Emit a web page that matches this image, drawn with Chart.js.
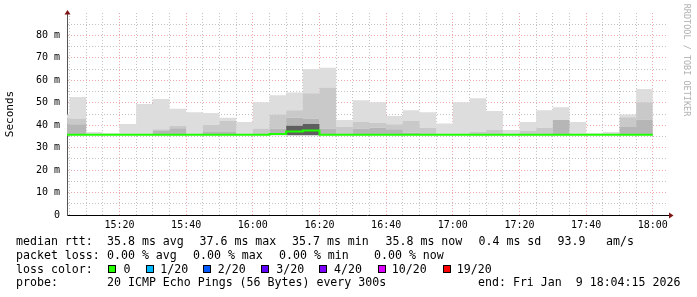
<!DOCTYPE html>
<html><head><meta charset="utf-8">
<script src="https://cdn.jsdelivr.net/npm/chart.js@4.4.1/dist/chart.umd.min.js"></script>
<style>
html,body{margin:0;padding:0;background:#fff;}
#wrap{position:relative;width:697px;height:297px;overflow:hidden;background:#fff;}
#c{position:absolute;left:0;top:0;}
.t{position:absolute;font-family:'DejaVu Sans Mono',monospace;font-size:11.6px;line-height:11.6px;color:#000;white-space:pre;}
.box{position:absolute;width:6px;height:6px;border:1px solid #000;}
.rot{position:absolute;font-family:'DejaVu Sans Mono',monospace;font-weight:normal;white-space:pre;text-align:center;}
</style></head><body>
<div id="wrap"><canvas id="c" width="697" height="297"></canvas></div>
<script>
// ---- data ----
const slotStarts = ['15:04:15','15:05','15:10','15:15','15:20','15:25','15:30','15:35','15:40','15:45','15:50','15:55',
  '16:00','16:05','16:10','16:15','16:20','16:25','16:30','16:35','16:40','16:45','16:50','16:55',
  '17:00','17:05','17:10','17:15','17:20','17:25','17:30','17:35','17:40','17:45','17:50','17:55','18:00'];
const minRtt    = [35.5,35.5,35.5,35.5,35.5,35.5,35.5,35.5,35.5,35.5,35.5,35.5,35.5,35.5,35.5,35.5,35.5,35.5,
                   35.5,35.5,35.5,35.5,35.5,35.5,35.5,35.5,35.5,35.5,35.5,35.5,35.5,35.5,35.5,35.5,35.5,35.5];
const darkRtt   = [35.5,35.5,35.5,35.5,35.5,35.5,35.5,35.5,35.5,35.5,35.5,35.5,35.5,35.5,39.8,40.6,35.5,35.5,
                   35.5,35.5,35.5,35.5,35.5,35.5,35.5,35.5,35.5,35.5,35.5,35.5,35.5,35.5,35.5,35.5,35.5,35.5];
const lowRtt    = [40.4,40.4,35.5,35.5,35.5,35.5,37.4,38.6,35.5,37.0,37.0,35.5,35.5,38.5,43.3,43.0,38.5,35.5,
                   38.5,38.9,38.2,36.7,35.5,35.5,35.5,35.5,35.5,35.5,35.5,35.5,42.3,35.5,35.5,35.5,39.2,42.6];
const midRtt    = [42.9,43.0,35.5,35.5,35.5,35.5,38.2,39.6,35.5,40.1,41.9,35.5,38.5,44.8,46.7,54.3,56.8,39.3,
                   41.4,41.1,40.4,41.9,38.9,35.5,35.5,37.0,37.9,35.5,37.4,38.9,42.3,35.5,35.5,35.5,43.6,50.2];
const maxRtt    = [44.8,52.6,37.0,36.4,40.5,49.5,51.7,47.3,45.8,45.4,43.3,41.4,50.2,53.3,54.6,65.1,65.6,42.3,
                   51.1,50.2,44.1,46.7,45.8,40.8,50.2,52.0,46.3,37.9,41.4,46.7,48.0,41.4,36.4,37.0,44.8,56.1];
const medianRtt = [35.8,35.8,35.8,35.8,35.8,35.8,35.8,35.8,35.8,35.8,35.8,35.8,35.8,36.1,37.2,37.6,35.8,35.8,
                   35.8,35.8,35.8,35.8,35.8,35.8,35.8,35.8,35.8,35.8,35.8,35.8,35.8,35.8,35.8,35.8,35.8,35.8];
const xTickMinutes = [20,40,60,80,100,120,140,160,180];
const xTickLabels  = ['15:20','15:40','16:00','16:20','16:40','17:00','17:20','17:40','18:00'];
const yTickValues  = [0,10,20,30,40,50,60,70,80];
const yTickLabels  = ['0','10 m','20 m','30 m','40 m','50 m','60 m','70 m','80 m'];
const lossLabels = ['0','1/20','2/20','3/20','4/20','10/20','19/20'];
const lossColors = ['#26ff00','#00b8ff','#0059ff','#5e00ff','#7e00ff','#dd00ff','#ff0000'];
const legendRows = [
  [[16,'median rtt:'],[107,'35.8 ms avg'],[199.5,'37.6 ms max'],[292,'35.7 ms min'],[385.5,'35.8 ms now'],[478.5,'0.4 ms sd'],[557.5,'93.9'],[606,'am/s']],
  [[16,'packet loss:'],[107,'0.00 % avg'],[193,'0.00 % max'],[279,'0.00 % min'],[374,'0.00 % now']],
  [[16,'loss color:']],
  [[16,'probe:'],[107,'20 ICMP Echo Pings (56 Bytes) every 300s'],[478,'end: Fri Jan  9 18:04:15 2026']]
];
const rowTops = [235.7,249.6,263.5,277.4];
const lossBoxX = [108.3,145.7,203.3,261,319,377.7,442.7];
const lossTextX = [123.5,160.2,217.8,276.2,334,391.8,456.8];

// ---- helpers ----
function toMin(s){const p=s.split(':').map(Number);return (p[0]-15)*60+p[1]+(p[2]||0)/60;}
const xs = slotStarts.map(toMin);
function pts(arr){const a=arr.concat([arr[arr.length-1]]);return a.map((v,i)=>({x:xs[i],y:v}));}

// ---- text outside the plot ----
const wrap=document.getElementById('wrap');
function addText(x,y,s,cls){const d=document.createElement('div');d.className=cls||'t';d.style.left=x+'px';d.style.top=y+'px';d.textContent=s;wrap.appendChild(d);return d;}
legendRows.forEach((row,r)=>row.forEach(([x,s])=>addText(x,rowTops[r],s)));
lossLabels.forEach((l,i)=>{
  const b=document.createElement('div');b.className='box';b.style.left=lossBoxX[i]+'px';b.style.top='265.3px';b.style.background=lossColors[i];wrap.appendChild(b);
  addText(lossTextX[i],rowTops[2],l);
});
const wm=addText(626.7,55,'RRDTOOL / TOBI OETIKER','rot');wm.style.width='120px';wm.style.fontSize='8.5px';wm.style.lineHeight='10px';wm.style.color='#b0b0b0';wm.style.transform='rotate(90deg)';

// ---- chart ----
const FONT='DejaVu Sans Mono';
const common={type:'line',stepped:'before',pointRadius:0,borderWidth:1,borderColor:'rgba(0,0,0,0)',tension:0};
const arrows={id:'arrows',afterDraw(chart){
  const {ctx,chartArea:a}=chart;ctx.save();
  ctx.strokeStyle='#000';ctx.lineWidth=1;ctx.beginPath();ctx.moveTo(a.right,a.bottom+0.5);ctx.lineTo(a.right+2.5,a.bottom+0.5);ctx.stroke();
  ctx.fillStyle='#7f1414';
  ctx.beginPath();ctx.moveTo(a.right+6.5,a.bottom+0.5);ctx.lineTo(a.right+2,a.bottom-2.5);ctx.lineTo(a.right+2,a.bottom+3.5);ctx.closePath();ctx.fill();
  ctx.beginPath();ctx.moveTo(a.left+0.5,a.top-3);ctx.lineTo(a.left-2.5,a.top+1.5);ctx.lineTo(a.left+3.5,a.top+1.5);ctx.closePath();ctx.fill();
  ctx.restore();
}};
new Chart(document.getElementById('c'),{
  type:'line',
  data:{datasets:[
    {...common,label:'min',data:pts(minRtt),fill:false},
    {...common,label:'dark',data:pts(darkRtt),fill:'-1',backgroundColor:'#5e5e5e'},
    {...common,label:'low',data:pts(lowRtt),fill:'-1',backgroundColor:'#b6b6b6'},
    {...common,label:'mid',data:pts(midRtt),fill:'-1',backgroundColor:'#c9c9c9'},
    {...common,label:'max',data:pts(maxRtt),fill:'-1',backgroundColor:'#dddddd'},
    {...common,label:'median',data:pts(medianRtt),fill:false,borderColor:'#20ff00',borderWidth:2,order:-1}
  ]},
  options:{
    responsive:false,animation:false,devicePixelRatio:1,
    layout:{padding:{left:0,right:30,top:11,bottom:0}},
    plugins:{legend:{display:false},tooltip:{enabled:false}},
    scales:{
      x:{type:'linear',position:'bottom',min:xs[0],max:xs[0]+180,z:1,
        afterFit(s){s.height=82;},
        afterBuildTicks(s){const t=[];for(let i=0;i<36;i++){t.push({value:toMin(slotStarts[i+1])});}s.ticks=t;},
        ticks:{autoSkip:false,maxRotation:0,minRotation:0,padding:4,color:'#000',font:{family:FONT,size:10},
          callback(v){const i=xTickMinutes.indexOf(Math.round(v));return i>=0?xTickLabels[i]:'';}},
        grid:{drawTicks:false,lineWidth:1,color(c){const v=c.tick&&Math.round(c.tick.value);return v%20===0?'rgba(235,140,140,0.75)':'rgba(180,180,180,0.8)';}},
        border:{display:true,color:'#000',width:1,dash:[1,2]}
      },
      y:{type:'linear',position:'left',min:0,max:90,z:1,
        afterFit(s){s.width=67;},
        title:{display:true,text:'Seconds',color:'#000',font:{family:FONT,size:11,weight:'normal'},padding:{top:4,bottom:0}},
        afterBuildTicks(s){const t=[];for(let v=0;v<=85;v+=5)t.push({value:v});s.ticks=t;},
        ticks:{autoSkip:false,padding:7,color:'#000',font:{family:FONT,size:10},
          callback(v){const i=yTickValues.indexOf(v);return i>=0?yTickLabels[i]:'';}},
        grid:{drawTicks:false,lineWidth:1,color(c){const v=c.tick&&c.tick.value;if(v===0)return 'rgba(0,0,0,0)';return v%10===0?'rgba(235,140,140,0.75)':'rgba(180,180,180,0.8)';}},
        border:{display:true,color:'#555',width:1,dash:[1,2]}
      }
    }
  },
  plugins:[arrows]
});
</script>
</body></html>
